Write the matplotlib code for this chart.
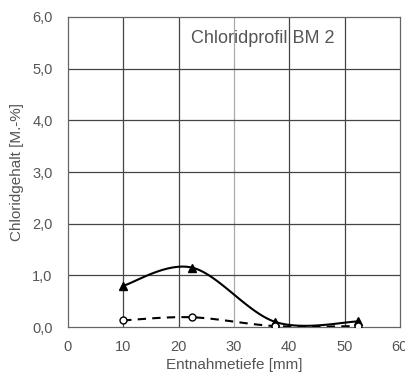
import matplotlib
matplotlib.use("Agg")
import matplotlib.pyplot as plt
import numpy as np

plt.rcParams['font.family'] = ['Liberation Sans', 'DejaVu Sans']

tiefe = [10, 22.5, 37.5, 52.5]
chlorid_a = [0.80, 1.15, 0.10, 0.11]   # triangles, solid
chlorid_b = [0.13, 0.19, 0.02, 0.02]   # circles, dashed


def smooth(x, y, n=30):
    # Excel-style smoothed line: cubic bezier with catmull-rom control points
    x = np.asarray(x, float)
    y = np.asarray(y, float)
    px = np.concatenate([[x[0]], x, [x[-1]]])
    py = np.concatenate([[y[0]], y, [y[-1]]])
    xs, ys = [], []
    t = np.linspace(0, 1, n)
    for i in range(1, len(px) - 2):
        p0 = np.array([px[i], py[i]])
        p3 = np.array([px[i + 1], py[i + 1]])
        p1 = p0 + (np.array([px[i + 1], py[i + 1]]) - np.array([px[i - 1], py[i - 1]])) / 6
        p2 = p3 - (np.array([px[i + 2], py[i + 2]]) - np.array([px[i], py[i]])) / 6
        b = ((1 - t) ** 3)[:, None] * p0 + (3 * (1 - t) ** 2 * t)[:, None] * p1 \
            + (3 * (1 - t) * t ** 2)[:, None] * p2 + (t ** 3)[:, None] * p3
        xs.extend(b[:, 0])
        ys.extend(b[:, 1])
    return xs, ys


fig = plt.figure(figsize=(4.06, 3.76), dpi=100)
ax = fig.add_axes([0.167, 0.130, 0.818, 0.825])

gray = "#555555"
for xv in [10, 20, 40, 50]:
    ax.axvline(xv, color="#444444", lw=0.9, zorder=1)
ax.axvline(30, color="#aaaaaa", lw=0.9, zorder=1)
for yv in [1, 2, 3, 4, 5]:
    ax.axhline(yv, color="#444444", lw=0.9, zorder=1)

sx, sy = smooth(tiefe, chlorid_a)
ax.plot(sx, sy, color="black", lw=1.5, zorder=3)
ax.plot(tiefe, chlorid_a, ls="none", marker="^", ms=6, color="black", zorder=4)

sx, sy = smooth(tiefe, chlorid_b)
ax.plot(sx, sy, color="black", lw=1.5, ls=(0, (4, 3)), zorder=3)
ax.plot(tiefe, chlorid_b, ls="none", marker="o", ms=5, mfc="white", mec="black",
        mew=1.0, zorder=4)

ax.set_xlim(0, 60)
ax.set_ylim(0, 6)
ax.set_xticks([0, 10, 20, 30, 40, 50, 60])
ax.set_yticks([0, 1, 2, 3, 4, 5, 6])
ax.set_yticklabels(["0,0", "1,0", "2,0", "3,0", "4,0", "5,0", "6,0"])
ax.tick_params(colors=gray, labelsize=10.5, length=0)
ax.tick_params(axis="x", pad=9)
ax.tick_params(axis="y", pad=11)
for s in ax.spines.values():
    s.set_color("#666666")
    s.set_linewidth(0.9)

ax.set_xlabel("Entnahmetiefe [mm]", color=gray, fontsize=11, labelpad=3)
ax.set_ylabel("Chloridgehalt [M.-%]", color=gray, fontsize=11, labelpad=6)
ax.text(0.587, 0.929, "Chloridprofil BM 2", transform=ax.transAxes, ha="center",
        va="center", fontsize=13, color=gray, zorder=5)

fig.savefig("out.png", dpi=100)
